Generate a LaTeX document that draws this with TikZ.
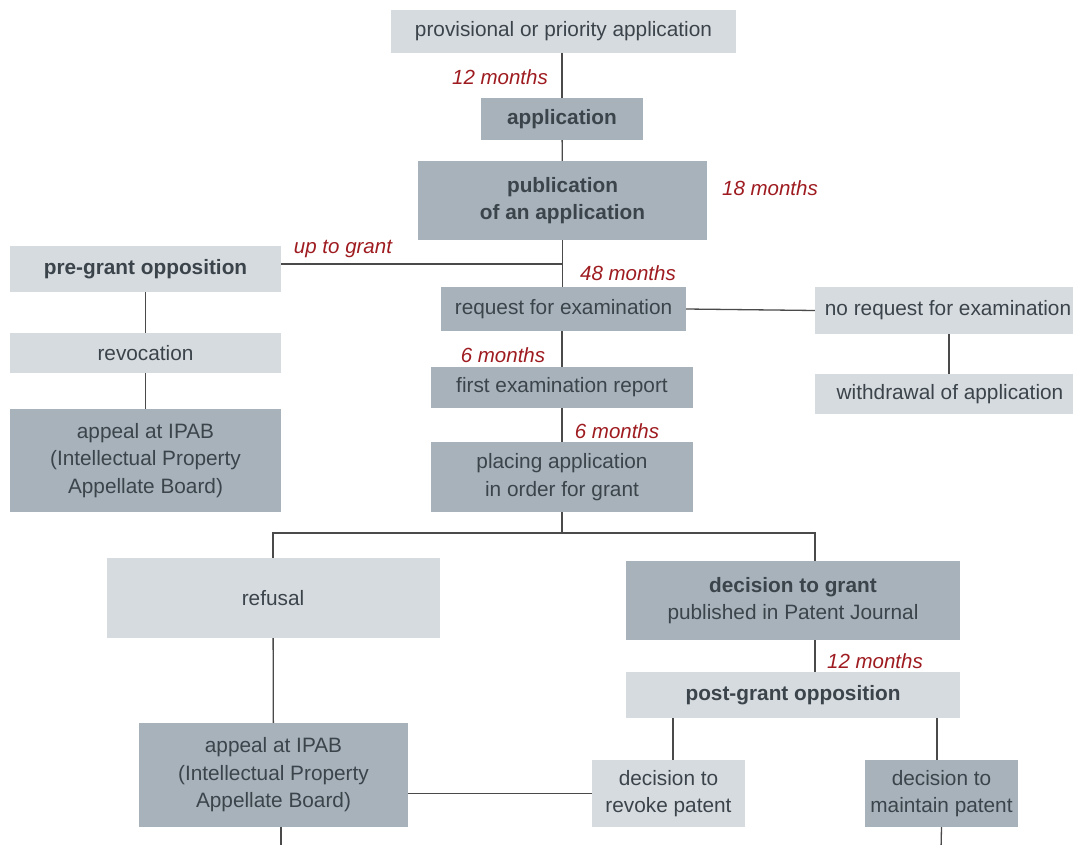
\documentclass[tikz,border=0pt]{standalone}
\usepackage{fontspec}
\setmainfont{Liberation Sans}
\definecolor{boxlight}{HTML}{D6DBDF}
\definecolor{boxdark}{HTML}{A7B2BA}
\definecolor{txtgray}{HTML}{3C444B}
\definecolor{linegray}{HTML}{4A4A4A}
\definecolor{redlbl}{HTML}{9E1B20}
\tikzset{
  base/.style={inner sep=0pt, align=center, text=txtgray, font=\fontsize{20.8}{27.5}\selectfont},
  light/.style={base, fill=boxlight},
  dark/.style={base, fill=boxdark},
  bx/.style n args={2}{minimum width=#1, minimum height=#2},
  lbl/.style={text=redlbl, font=\fontsize{20.5}{24}\selectfont\itshape, inner sep=0pt},
  conn/.style={draw=linegray, line width=1.3pt}
}
\begin{document}
\begin{tikzpicture}[x=1pt,y=-1pt]
\useasboundingbox (0,0) rectangle (1073,845);
\clip (0,0) rectangle (1073,845);
% nodes
\node[light, bx={345}{43}] (prov) at (563.5,31.5) {provisional or priority application};
\node[dark, bx={162}{42}] (app) at (562,119) {\bfseries application};
\node[dark, bx={289}{79}] (pub) at (562.5,200.5) {\bfseries publication\\\bfseries of an application};
\node[light, bx={271}{46}] (pre) at (145.5,269) {\bfseries pre-grant opposition};
\node[light, bx={271}{40}] (revoc) at (145.5,353) {revocation};
\node[dark, bx={271}{103}] (appealA) at (145.5,460.5) {appeal at IPAB\\(Intellectual Property\\Appellate Board)};
\node[dark, bx={245}{44}] (req) at (563.5,309) {request for examination};
\node[light, bx={266}{47}] (noreq) at (948,310.5) {no request for examination};
\node[light, bx={270}{40}] (withd) at (950,394) {withdrawal of application};
\node[dark, bx={262}{41}] (first) at (562,387.5) {first examination report};
\node[dark, bx={262}{70}] (placing) at (562,477) {placing application\\in order for grant};
\node[light, bx={333}{80}] (refusal) at (273,598) {refusal};
\node[dark, bx={334}{79}] (grant) at (793,600.5) {\bfseries decision to grant\\published in Patent Journal};
\node[light, bx={334}{46}] (post) at (793,695) {\bfseries post-grant opposition};
\node[dark, bx={269}{104}] (appealB) at (273.5,775) {appeal at IPAB\\(Intellectual Property\\Appellate Board)};
\node[light, bx={153}{67}] (revoke) at (668.5,793.5) {decision to\\revoke patent};
\node[dark, bx={153}{67}] (maintain) at (941.5,793.5) {decision to\\maintain patent};
% labels
\node[lbl] (l1) at (500,77) {12 months};
\node[lbl] (l2) at (770,188) {18 months};
\node[lbl] (l3) at (343,249) {up to grant};
\node[lbl] (l4) at (628,273) {48 months};
\node[lbl] (l5) at (503,355) {6 months};
\node[lbl] (l6) at (617,431) {6 months};
\node[lbl] (l7) at (875,661) {12 months};
% helper coordinates
\coordinate (j1) at (562,264);
\coordinate (j2) at (562,533);
\coordinate (gx) at (815,0);
\coordinate (rx) at (673,0);
\coordinate (mx) at (937,0);
\coordinate (ax) at (281,0);
\coordinate (endA) at (281,850);
\coordinate (endM) at (941,850);
\coordinate (wx) at (949,0);
% connectors
\draw[conn] (prov.south -| app) -- (app.north);
\draw[conn] (app) -- (pub);
\draw[conn] (pub.south) -- (req.north -| pub);
\draw[conn] (pre.east |- j1) -- (j1);
\draw[conn] (pre) -- (revoc);
\draw[conn] (revoc) -- (appealA);
\draw[conn] (req.south -| first) -- (first.north);
\draw[conn] (first) -- (placing);
\draw[conn] (req.east) -- (noreq.west);
\draw[conn] (noreq.south -| wx) -- (withd.north -| wx);
\draw[conn] (placing.south) -- (j2);
\draw[conn] (refusal.north) |- (j2) -| (grant.north -| gx);
\draw[conn] (refusal) -- (appealB);
\draw[conn] (grant.south -| gx) -- (post.north -| gx);
\draw[conn] (post.south -| rx) -- (revoke.north -| rx);
\draw[conn] (post.south -| mx) -- (maintain.north -| mx);
\draw[conn] (appealB.east |- revoke.west) -- (revoke.west);
\draw[conn] (appealB.south -| ax) -- (endA);
\draw[conn] (maintain.south) -- (endM);
\end{tikzpicture}
\end{document}
